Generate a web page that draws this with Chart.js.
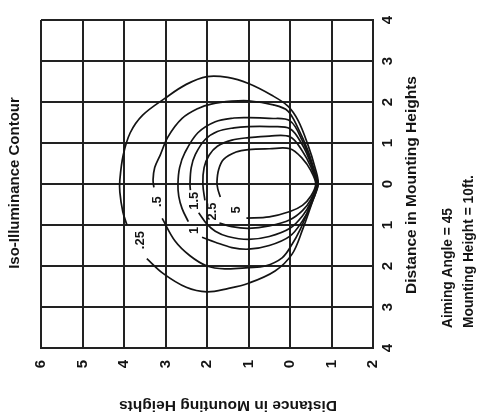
<!DOCTYPE html>
<html>
<head>
<meta charset="utf-8">
<script src="https://cdn.jsdelivr.net/npm/chart.js@4.4.1/dist/chart.umd.min.js"></script>
<style>
  html, body { margin: 0; padding: 0; background: #ffffff; }
  #wrap { width: 483px; height: 417px; position: relative; }
</style>
</head>
<body>
<div id="wrap"><canvas id="c" width="483" height="417"></canvas></div>
<script>
// ---- Data (distance in mounting heights) ----
const xTickValues = [6, 5, 4, 3, 2, 1, 0, -1, -2];
const yTickValues = [4, 3, 2, 1, 0, -1, -2, -3, -4];
const contourLevels = ['.25', '.5', '1', '1.5', '2.5', '5'];

const contour025 = [[3.93,-1.0],[4.03,-0.67],[4.1,-0.2],[4.1,0.1],[4.02,0.7],[3.85,1.25],[3.55,1.68],[3.0,2.1],[2.5,2.43],[2.0,2.62],[1.5,2.6],[1.0,2.45],[0.45,2.17],[0.05,1.9],[-0.2,1.54],[-0.43,0.96],[-0.6,0.41],[-0.68,0],[-0.55,-0.4],[-0.3,-1.12],[-0.05,-1.71],[0.36,-2.12],[1.0,-2.42],[1.5,-2.55],[2.0,-2.63],[2.5,-2.52],[3.06,-2.18],[3.45,-1.82]];
const contour05 = [[3.28,-0.08],[3.3,0.1],[3.26,0.4],[3.13,0.7],[2.94,1.15],[2.6,1.6],[2.2,1.85],[1.9,1.95],[1.4,2.02],[1.0,2.03],[0.4,1.93],[0.05,1.78],[-0.19,1.37],[-0.43,0.82],[-0.6,0.28],[-0.68,0],[-0.6,-0.22],[-0.45,-0.62],[-0.25,-1.1],[-0.05,-1.47],[0.19,-1.8],[0.6,-2.0],[1.0,-2.04],[1.57,-2.07],[2.0,-2.0],[2.41,-1.75],[2.77,-1.39],[3.08,-0.84]];
const contour1 = [[2.45,-0.92],[2.6,-0.6],[2.68,-0.3],[2.7,0],[2.66,0.4],[2.53,0.77],[2.22,1.25],[1.8,1.52],[1.35,1.61],[1.0,1.62],[0.5,1.6],[0,1.54],[-0.3,1.05],[-0.5,0.55],[-0.66,0],[-0.5,-0.52],[-0.3,-0.9],[0,-1.27],[0.5,-1.5],[1.0,-1.59],[1.4,-1.55],[1.8,-1.42],[2.12,-1.3]];
const contour15 = [[2.4,-0.15],[2.41,0],[2.38,0.4],[2.28,0.72],[2.05,1.08],[1.75,1.28],[1.35,1.37],[1.0,1.4],[0.5,1.4],[0,1.35],[-0.3,0.95],[-0.5,0.5],[-0.65,0],[-0.5,-0.45],[-0.3,-0.78],[0,-1.08],[0.5,-1.28],[1.0,-1.35],[1.5,-1.28],[1.8,-1.15],[2.0,-0.98],[2.2,-0.7]];
const contour25 = [[2.05,-0.4],[2.1,0],[2.07,0.4],[1.95,0.7],[1.75,0.92],[1.4,1.07],[1.0,1.13],[0.5,1.17],[0,1.15],[-0.3,0.8],[-0.5,0.42],[-0.64,0],[-0.5,-0.38],[-0.3,-0.65],[0,-0.87],[0.5,-1.02],[1.0,-1.08],[1.4,-1.04],[1.7,-0.95]];
const contour5 = [[1.68,-0.32],[1.74,-0.12],[1.76,0.05],[1.72,0.35],[1.6,0.6],[1.3,0.78],[1.0,0.84],[0.5,0.86],[0,0.86],[-0.3,0.62],[-0.5,0.33],[-0.62,0],[-0.5,-0.3],[-0.3,-0.52],[0,-0.67],[0.5,-0.8],[1.05,-0.83]];

const labelX = [3.61, 3.2, 2.31, 2.31, 1.88, 1.28];
const labelY = [-1.37, -0.43, -1.13, -0.41, -0.67, -0.63];

const contours = [contour025, contour05, contour1, contour15, contour25, contour5];

const FONT = '"Liberation Sans", Arial, sans-serif';
const INK = '#141414';

const textPlugin = {
  id: 'texts',
  afterDraw(chart) {
    const ctx = chart.ctx;
    const xs = chart.scales.x, ys = chart.scales.y;
    ctx.save();
    ctx.fillStyle = INK;
    ctx.textBaseline = 'middle';
    // contour labels
    ctx.font = 'bold 13px ' + FONT;
    ctx.textAlign = 'center';
    contourLevels.forEach((t, i) => {
      const px = xs.getPixelForValue(labelX[i]);
      const py = ys.getPixelForValue(labelY[i]);
      ctx.save(); ctx.translate(px, py); ctx.rotate(-Math.PI / 2);
      ctx.fillText(t, 0, 0); ctx.restore();
    });
    // left title
    ctx.font = 'bold 15px ' + FONT;
    ctx.save(); ctx.translate(15, 183); ctx.rotate(-Math.PI / 2);
    ctx.textAlign = 'center'; ctx.fillText('Iso-Illuminance Contour', 0, 0); ctx.restore();
    // right axis title
    ctx.font = 'bold 15.5px ' + FONT;
    ctx.save(); ctx.translate(412, 185); ctx.rotate(-Math.PI / 2);
    ctx.textAlign = 'center'; ctx.fillText('Distance in Mounting Heights', 0, 0); ctx.restore();
    // bottom axis title (upside down)
    ctx.save(); ctx.translate(228, 405); ctx.rotate(Math.PI);
    ctx.textAlign = 'center'; ctx.fillText('Distance in Mounting Heights', 0, 0); ctx.restore();
    // notes
    ctx.font = 'bold 13.8px ' + FONT;
    ctx.save(); ctx.translate(448, 328); ctx.rotate(-Math.PI / 2);
    ctx.textAlign = 'left'; ctx.fillText('Aiming Angle = 45', 0, 0); ctx.restore();
    ctx.save(); ctx.translate(469, 328); ctx.rotate(-Math.PI / 2);
    ctx.textAlign = 'left'; ctx.fillText('Mounting Height = 10ft.', 0, 0); ctx.restore();
    ctx.restore();
  }
};

new Chart(document.getElementById('c'), {
  type: 'scatter',
  data: {
    datasets: contours.map((c, i) => ({
      label: contourLevels[i],
      data: c.map(p => ({ x: p[0], y: p[1] })),
      showLine: true,
      borderColor: INK,
      borderWidth: 1.7,
      pointRadius: 0,
      tension: 0.35,
      fill: false
    }))
  },
  options: {
    responsive: false,
    animation: false,
    devicePixelRatio: 1,
    layout: { padding: { left: 41, top: 15, right: 80, bottom: 44 } },
    plugins: { legend: { display: false }, tooltip: { enabled: false }, title: { display: false } },
    scales: {
      x: {
        type: 'linear', position: 'bottom', min: -2, max: 6, reverse: true,
        afterBuildTicks: s => { s.ticks = xTickValues.map(v => ({ value: v })); },
        afterFit: s => { s.height = 25; },
        ticks: {
          minRotation: 90, maxRotation: 90, padding: 12, color: INK,
          font: { family: FONT, size: 15, weight: 'bold' },
          callback: v => String(Math.abs(v))
        },
        grid: { color: '#222222', lineWidth: 2, drawTicks: false },
        border: { display: true, color: '#222222', width: 2 }
      },
      y: {
        type: 'linear', position: 'right', min: -4, max: 4,
        afterBuildTicks: s => { s.ticks = yTickValues.map(v => ({ value: v })); },
        afterFit: s => { s.width = 30; },
        ticks: {
          minRotation: 90, maxRotation: 90, padding: 11, crossAlign: 'center', color: INK,
          font: { family: FONT, size: 15, weight: 'bold' },
          callback: v => String(Math.abs(v))
        },
        grid: { color: '#222222', lineWidth: 2, drawTicks: false },
        border: { display: true, color: '#222222', width: 2 }
      }
    }
  },
  plugins: [textPlugin]
});
</script>
</body>
</html>
